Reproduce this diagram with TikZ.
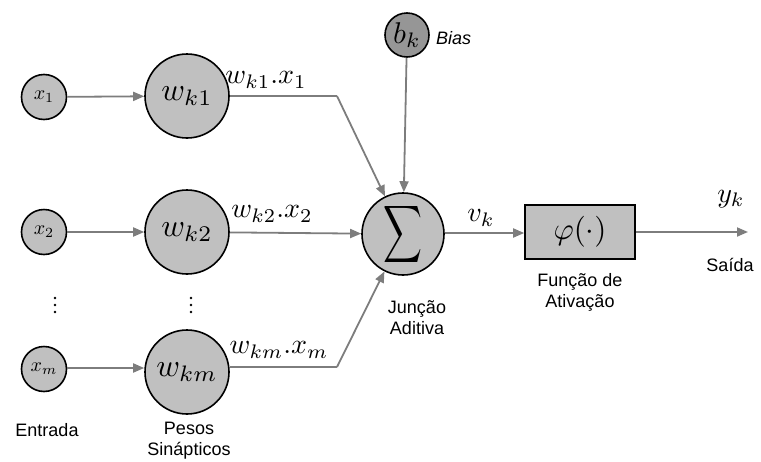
\documentclass[tikz,border=0pt]{standalone}
\usepackage{fontspec}
\setsansfont{Liberation Sans}
\usetikzlibrary{arrows.meta}
\definecolor{nodegray}{RGB}{192,192,192}
\definecolor{biasgray}{RGB}{150,150,150}
\definecolor{linegray}{RGB}{125,125,125}
% math set at 10pt, then enlarged
\newcommand{\bigmath}[2]{\scalebox{#1}{$#2$}}
\begin{document}
\begin{tikzpicture}[x=1pt,y=-1pt,
  inputnode/.style={circle,draw=black,line width=1.6pt,fill=nodegray,minimum size=45pt,inner sep=0pt},
  weightnode/.style={circle,draw=black,line width=1.6pt,fill=nodegray,minimum size=84pt,inner sep=0pt},
  conn/.style={draw=linegray,line width=1.8pt,-{Triangle[length=11pt,width=9pt]}},
  wire/.style={draw=linegray,line width=1.8pt},
  caption/.style={font=\sffamily\fontsize{18}{21}\selectfont,align=center,inner sep=0pt},
  prodlabel/.style={inner sep=0pt}]
\useasboundingbox (0,0) rectangle (761,461);

% inputs
\node[inputnode] (x1) at (44,97) {\bigmath{2}{x_1}};
\node[inputnode] (x2) at (44,232) {\bigmath{2}{x_2}};
\node[inputnode] (xm) at (44,369) {\bigmath{2}{x_m}};

% synaptic weights
\node[weightnode] (w1) at (187,96) {\bigmath{3.2}{w_{k1}}};
\node[weightnode] (w2) at (187,232) {\bigmath{3.2}{w_{k2}}};
\node[weightnode] (wm) at (187,372) {\bigmath{3.2}{w_{km}}};

% vertical ellipses
\foreach \xx in {55,191}
  \foreach \yy in {298,305,312}
    \fill (\xx,\yy) circle (1.3pt);

% summing junction and bias
\node[circle,draw=black,line width=1.6pt,fill=nodegray,minimum size=82pt,inner sep=0pt] (sum) at (403,234)
  {\scalebox{2.7}[4]{$\displaystyle\sum$}};
\node[circle,draw=black,line width=1.6pt,fill=biasgray,minimum size=44pt,inner sep=0pt] (bias) at (407,35) {\bigmath{3}{b_k}};
\node[font=\sffamily\itshape\fontsize{18}{18}\selectfont,anchor=west,inner sep=0pt] (biaslbl) at (436,38) {Bias};

% activation function
\node[draw=black,line width=1.6pt,fill=nodegray,minimum width=110pt,minimum height=54pt,inner sep=0pt] (phi) at (580,232) {\bigmath{3.1}{\varphi(\cdot)}};

% bend points of the outer paths
\coordinate (b1) at (337,96);
\coordinate (bm) at (337,367);
\coordinate (out) at (748,232);

% connectors
\draw[conn] (x1) -- (w1);
\draw[conn] (x2) -- (w2);
\draw[conn] (xm.east |- 0,368) -- (wm.west |- 0,368);
\draw[wire] (w1.east) -- (b1);
\draw[conn] (b1) -- (sum);
\draw[conn] (w2) -- (sum);
\draw[wire] (wm.east |- bm) -- (bm);
\draw[conn] (bm) -- (sum);
\draw[conn] (bias) -- (sum);
\draw[conn] (sum.east |- 0,233) -- (phi.west |- 0,233);
\draw[conn] (phi.east |- 0,232) -- (out);

% signal labels
\node[prodlabel] (l1) at (266,80) {\bigmath{2.8}{w_{k1}.x_1}};
\node[prodlabel] (l2) at (272,214) {\bigmath{2.8}{w_{k2}.x_2}};
\node[prodlabel] (lm) at (279,350) {\bigmath{2.8}{w_{km}.x_m}};
\node[prodlabel] (vk) at (481,218) {\bigmath{2.8}{v_k}};
\node[prodlabel] (yk) at (731,199) {\bigmath{2.8}{y_k}};

% captions
\node[caption] (c1) at (47,430) {Entrada};
\node[caption] (c2) at (189,441) {Pesos\\Sinápticos};
\node[caption] (c3) at (417,318) {Junção\\Aditiva};
\node[caption] (c4) at (580,292) {Função de\\Ativação};
\node[caption] (c5) at (730,265) {Saída};
\end{tikzpicture}
\end{document}
